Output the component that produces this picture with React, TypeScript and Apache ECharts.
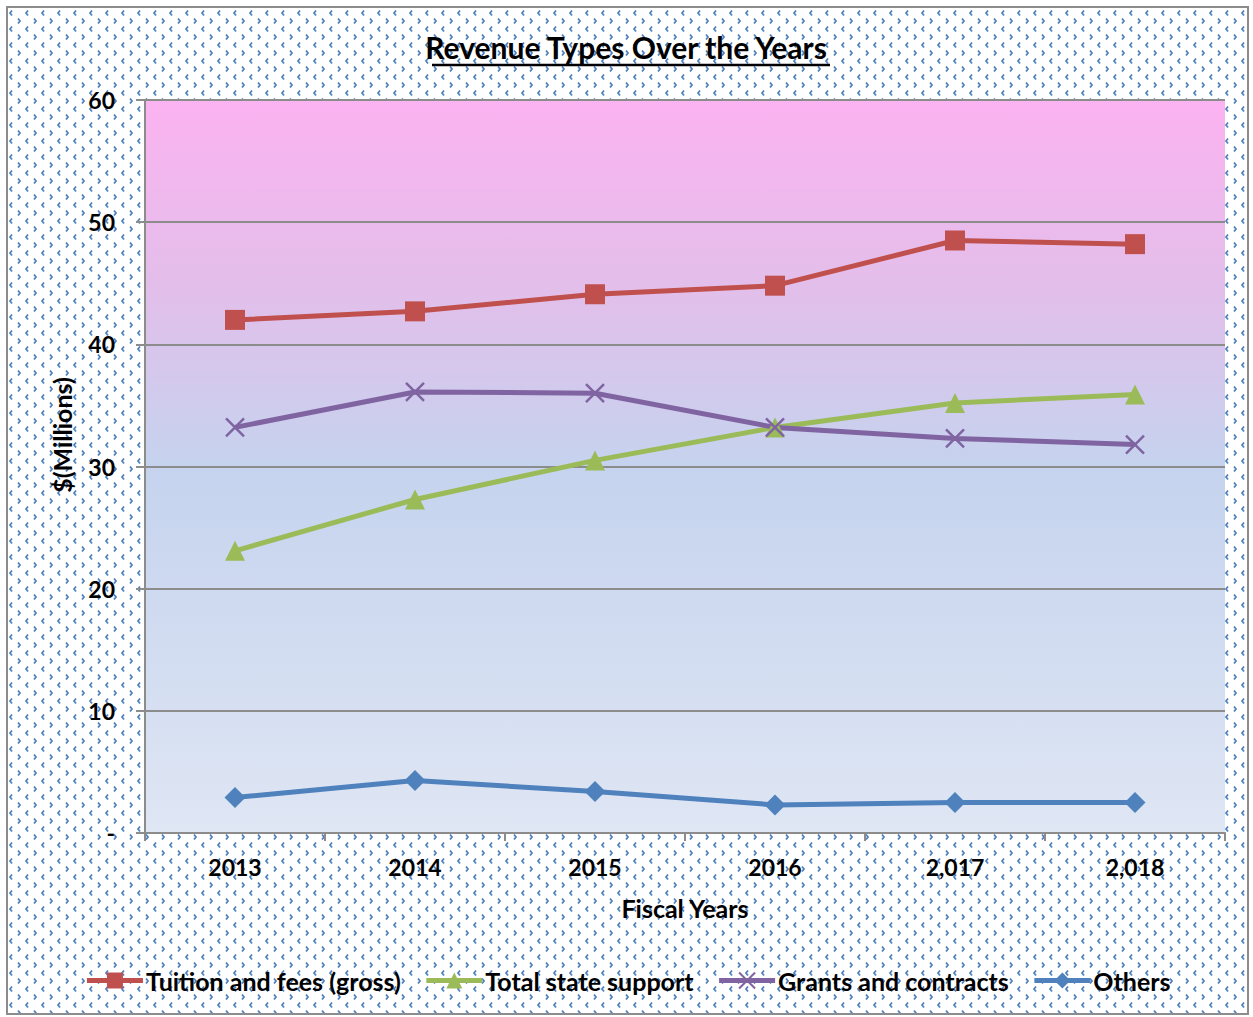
import React, { useEffect, useRef } from "react";
import * as echarts from "echarts";

const categories = ["2013", "2014", "2015", "2016", "2,017", "2,018"];
const tuition = [42.0, 42.7, 44.1, 44.8, 48.5, 48.2];
const stateSupport = [23.1, 27.3, 30.5, 33.2, 35.2, 35.9];
const grants = [33.2, 36.1, 36.0, 33.2, 32.3, 31.8];
const others = [2.9, 4.3, 3.4, 2.3, 2.5, 2.5];
const yTicks = [0, 10, 20, 30, 40, 50, 60];

const FONT = "Lato, 'Open Sans', sans-serif";

const patternSvg =
  "<svg xmlns='http://www.w3.org/2000/svg' width='16' height='16'>" +
  "<path d='M4 2.5 L2 5 L4 7.5' stroke='#4F81BD' fill='none' stroke-width='1.8'/>" +
  "<path d='M10 10.5 L12 13 L10 15.5' stroke='#4F81BD' fill='none' stroke-width='1.8'/>" +
  "</svg>";
const patternUrl = "url(\"data:image/svg+xml;utf8," + encodeURIComponent(patternSvg) + "\")";

export default function App() {
  const ref = useRef<HTMLDivElement>(null);
  useEffect(() => {
    if (!ref.current) return;
    const chart = echarts.init(ref.current, undefined, { renderer: "svg", width: 1239, height: 1005 });
    const labelStyle = { fontFamily: FONT, fontWeight: "bold" as const, fontSize: 23, color: "#000" };
    const nameStyle = { fontFamily: FONT, fontWeight: "bold" as const, fontSize: 25, color: "#000" };
    const mkSeries = (name: string, data: number[], color: string, symbol: string, size: number, extra: any = {}) => ({
      name,
      type: "line",
      data,
      symbol,
      symbolSize: size,
      lineStyle: { color, width: 5 },
      itemStyle: { color, ...extra },
      emphasis: { disabled: true },
    });
    chart.setOption({
      animation: false,
      backgroundColor: "transparent",
      textStyle: { fontFamily: FONT },
      grid: {
        left: 137,
        top: 92,
        width: 1080,
        height: 733,
        show: true,
        borderWidth: 0,
        backgroundColor: {
          type: "linear",
          x: 0,
          y: 0,
          x2: 0,
          y2: 1,
          colorStops: [
            { offset: 0, color: "#FCB3F1" },
            { offset: 0.25, color: "#E3BEEA" },
            { offset: 0.5, color: "#C5D3EE" },
            { offset: 1, color: "#DFE6F4" },
          ],
        },
      },
      graphic: [
        {
          type: "text",
          left: "center",
          top: 24,
          style: { text: "Revenue Types Over the Years", font: "bold 30px " + FONT, fill: "#000" },
        },
        {
          type: "line",
          shape: { x1: 424, y1: 57, x2: 822, y2: 57 },
          style: { stroke: "#000", lineWidth: 2.5 },
        },
        {
          type: "text",
          x: 54,
          y: 427,
          rotation: Math.PI / 2,
          style: {
            text: "$(Millions)",
            font: "bold 25px " + FONT,
            fill: "#000",
            align: "center",
            verticalAlign: "middle",
          },
        },
      ],
      legend: {
        left: "center",
        bottom: 15,
        itemWidth: 56,
        itemHeight: 20,
        itemGap: 23,
        lineStyle: { width: 5 },
        textStyle: { ...nameStyle, padding: [0, 0, 0, -2] },
        data: ["Tuition and fees (gross)", "Total state support", "Grants and contracts", "Others"],
      },
      xAxis: {
        type: "category",
        data: categories,
        boundaryGap: true,
        name: "Fiscal Years",
        nameLocation: "middle",
        nameGap: 62,
        nameTextStyle: nameStyle,
        axisLine: { lineStyle: { color: "#8C8C8C", width: 2 } },
        axisTick: { show: true, length: 8, lineStyle: { color: "#8C8C8C", width: 2 } },
        axisLabel: { ...labelStyle, margin: 22 },
      },
      yAxis: {
        type: "value",
        min: yTicks[0],
        max: yTicks[yTicks.length - 1],
        interval: 10,
        axisLine: { show: true, lineStyle: { color: "#8C8C8C", width: 2 } },
        axisTick: { show: true, length: 9, lineStyle: { color: "#8C8C8C", width: 2 } },
        splitLine: { lineStyle: { color: "#8C8C8C", width: 2 } },
        axisLabel: { ...labelStyle, margin: 30, formatter: (v: number) => (v === 0 ? "-" : String(v)) },
      },
      series: [
        mkSeries("Tuition and fees (gross)", tuition, "#C0504D", "rect", 20),
        mkSeries("Total state support", stateSupport, "#9BBB59", "triangle", 20),
        mkSeries("Grants and contracts", grants, "#8064A2", "path://M0,0 L10,10 M10,0 L0,10", 18, {
          borderColor: "#8064A2",
          borderWidth: 2.5,
        }),
        mkSeries("Others", others, "#4F81BD", "diamond", 21),
      ],
    });
    return () => chart.dispose();
  }, []);
  return (
    <div
      style={{
        position: "absolute",
        left: 6,
        top: 6,
        width: 1243,
        height: 1009,
        boxSizing: "border-box",
        border: "2px solid #8C8C8C",
        backgroundColor: "#fff",
        backgroundImage: patternUrl,
        overflow: "hidden",
      }}
    >
      <div ref={ref} style={{ width: 1239, height: 1005 }} />
    </div>
  );
}
